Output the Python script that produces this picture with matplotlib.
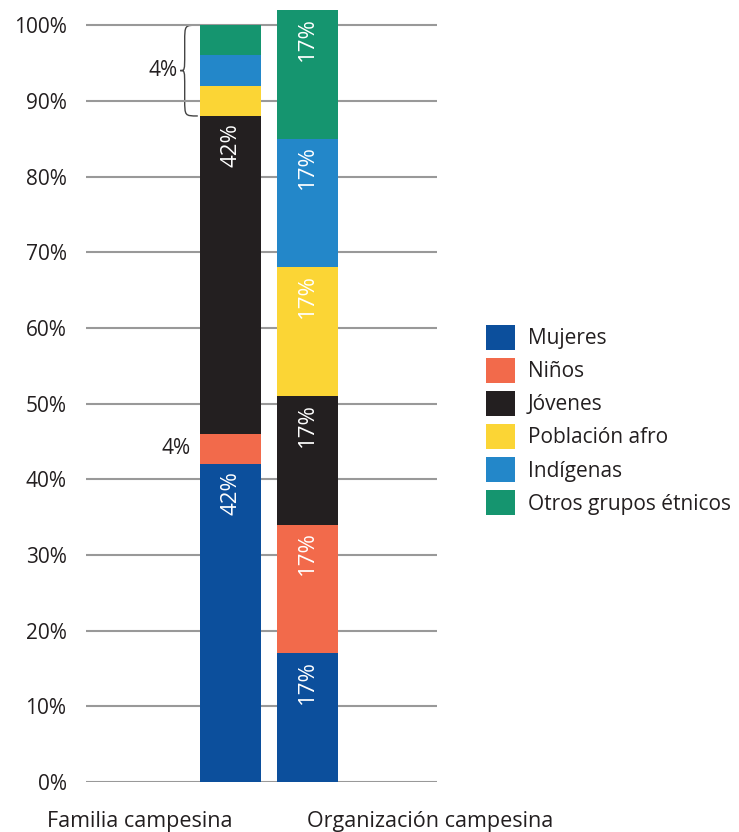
import matplotlib.pyplot as plt
from matplotlib.path import Path
from matplotlib.patches import PathPatch, Patch

plt.rcParams['font.family'] = ['Open Sans', 'DejaVu Sans']

# Data
groups = ['Familia campesina', 'Organización campesina']
categories = ['Mujeres', 'Niños', 'Jóvenes', 'Población afro', 'Indígenas', 'Otros grupos étnicos']
familia = [42, 4, 42, 4, 4, 4]
organizacion = [17, 17, 17, 17, 17, 17]
colors = ['#0c4f9c', '#f26a4b', '#231f20', '#fbd535', '#2387c9', '#15956f']
yticks = list(range(0, 101, 10))
text_color = '#231f20'

fig = plt.figure(figsize=(7.39, 8.32), dpi=100)
W, H = 739, 832
ax = fig.add_axes([86 / W, (H - 782) / H, (437 - 86) / W, (782 - 10) / H])

xpos = [0, 1]
width = 0.79
for xi, vals in zip(xpos, [familia, organizacion]):
    bottom = 0
    for v, c in zip(vals, colors):
        ax.bar(xi, v, width=width, bottom=bottom, color=c, zorder=3)
        bottom += v

# rotated value labels near the top of each large segment
for xi, vals in zip(xpos, [familia, organizacion]):
    bottom = 0
    for v in vals:
        top = bottom + v
        if v >= 10:
            ax.text(xi, top - 0.9, f'{v}%', rotation=90, ha='center', va='top',
                    color='white', fontsize=16, zorder=4)
        bottom = top

# small segments of the first bar
left = xpos[0] - width / 2
nin_mid = familia[0] + familia[1] / 2
ax.text(left - 0.12, nin_mid, f'{familia[1]}%', ha='right', va='center',
        fontsize=15, color=text_color)

# curly brace around the three 4% segments at the top
b_bot = sum(familia[:3])
b_top = sum(familia)
b_mid = (b_bot + b_top) / 2
xe, xs, xt, r = left - 0.03, left - 0.2, left - 0.26, 2.2
verts = [(xe, b_top), (xs, b_top), (xs, b_top), (xs, b_top - r),
         (xs, b_mid + r),
         (xs, b_mid), (xs, b_mid), (xt, b_mid),
         (xs, b_mid), (xs, b_mid), (xs, b_mid - r),
         (xs, b_bot + r),
         (xs, b_bot), (xs, b_bot), (xe, b_bot)]
codes = [Path.MOVETO, Path.CURVE4, Path.CURVE4, Path.CURVE4,
         Path.LINETO,
         Path.CURVE4, Path.CURVE4, Path.CURVE4,
         Path.CURVE4, Path.CURVE4, Path.CURVE4,
         Path.LINETO,
         Path.CURVE4, Path.CURVE4, Path.CURVE4]
ax.add_patch(PathPatch(Path(verts, codes), fill=False, edgecolor='#444444',
                       lw=1.0, clip_on=False))
ax.text(xt - 0.03, b_mid, f'{familia[3]}%', ha='right', va='center',
        fontsize=15, color=text_color)

ax.set_xlim(-1.877, 2.682)
ax.set_ylim(0, 102)
ax.set_yticks(yticks)
ax.set_yticklabels([f'{t}%' for t in yticks], fontsize=15, color=text_color)
ax.tick_params(axis='y', length=0, pad=14)
ax.set_xticks([])
ax.yaxis.grid(True, color='#999999', lw=1.5, zorder=0)
for s in ax.spines.values():
    s.set_visible(False)

# category names under the axis
fig.text(47 / W, 1 - 821 / H, groups[0], ha='left', va='center', fontsize=15.5, color=text_color)
fig.text(307 / W, 1 - 821 / H, groups[1], ha='left', va='center', fontsize=15.5, color=text_color)

handles = [Patch(facecolor=c, edgecolor='none') for c in colors]
fig.legend(handles, categories, loc='upper left', bbox_to_anchor=(486 / W, 1 - 325 / H),
           frameon=False, fontsize=15, handlelength=1.4, handleheight=1.45,
           handletextpad=0.6, labelspacing=0.4, borderpad=0, borderaxespad=0,
           labelcolor=text_color)

fig.savefig('out.png', dpi=100)
